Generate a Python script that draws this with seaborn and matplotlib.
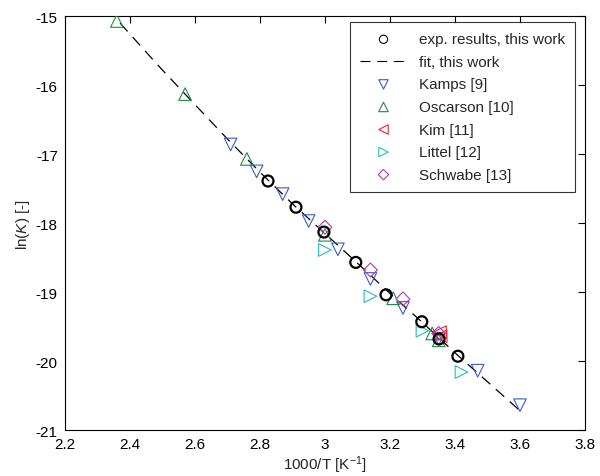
import matplotlib
matplotlib.use('Agg')
import matplotlib.pyplot as plt
import seaborn as sns

# experimental results, this work
exp_x = [2.825, 2.911, 2.997, 3.095, 3.188, 3.298, 3.351, 3.409]
exp_y = [-17.39, -17.77, -18.13, -18.57, -19.04, -19.43, -19.68, -19.93]

# fit, this work
fit_x = [2.37, 2.45, 2.50, 2.57, 2.65, 2.70, 2.80, 2.90, 3.00, 3.10, 3.20, 3.30, 3.40, 3.50, 3.60]
fit_y = [-15.10, -15.52, -15.78, -16.13, -16.53, -16.78, -17.26, -17.72, -18.15, -18.58,
         -19.02, -19.44, -19.88, -20.30, -20.72]

kamps_x = [2.71, 2.79, 2.87, 2.95, 3.04, 3.14, 3.24, 3.35, 3.47, 3.60]
kamps_y = [-16.86, -17.25, -17.58, -17.97, -18.38, -18.81, -19.23, -19.68, -20.14, -20.64]

oscarson_x = [2.36, 2.57, 2.76, 3.00, 3.21, 3.33, 3.35]
oscarson_y = [-15.07, -16.13, -17.07, -18.17, -19.09, -19.60, -19.70]

kim_x = [3.354, 3.356]
kim_y = [-19.58, -19.64]

littel_x = [3.00, 3.14, 3.30, 3.42]
littel_y = [-18.39, -19.06, -19.56, -20.16]

schwabe_x = [3.00, 3.14, 3.24, 3.35]
schwabe_y = [-18.06, -18.68, -19.10, -19.60]

sns.set_style('white')
plt.rcParams['font.family'] = ['Liberation Sans', 'DejaVu Sans']
plt.rcParams['mathtext.fontset'] = 'custom'
plt.rcParams['mathtext.rm'] = 'Liberation Sans'
plt.rcParams['mathtext.it'] = 'Liberation Sans:italic'
plt.rcParams['axes.unicode_minus'] = False
plt.rcParams['font.size'] = 11

fig = plt.figure(figsize=(6, 4.77), dpi=100)
ax = fig.add_axes([0.108, 0.0964, 0.867, 0.8676])

# literature data sets
others = [
    ('Kamps [9]', kamps_x, kamps_y, 'v', '#3a5cc4'),
    ('Oscarson [10]', oscarson_x, oscarson_y, '^', '#1f8a45'),
    ('Kim [11]', kim_x, kim_y, '<', '#e8262b'),
    ('Littel [12]', littel_x, littel_y, '>', '#23bcc4'),
    ('Schwabe [13]', schwabe_x, schwabe_y, 'D', '#b03cb0'),
]

sns.lineplot(x=fit_x, y=fit_y, ax=ax, color='black', linewidth=0.9,
             linestyle=(0, (9, 6)), label='fit, this work', zorder=2, sort=False)

for name, xs, ys, mk, col in others:
    size = 50 if mk == 'D' else 82
    sns.scatterplot(x=xs, y=ys, ax=ax, marker=mk, s=size, facecolors='none',
                    edgecolor=col, linewidth=0.8, label=name, zorder=3)

sns.scatterplot(x=exp_x, y=exp_y, ax=ax, marker='o', s=62, facecolors='none',
                edgecolor='black', linewidth=1.6, label='exp. results, this work', zorder=4)

ax.set_xlim(2.2, 3.8)
ax.set_ylim(-21, -15)
ax.set_xticks([2.2, 2.4, 2.6, 2.8, 3.0, 3.2, 3.4, 3.6, 3.8])
ax.set_xticklabels(['2.2', '2.4', '2.6', '2.8', '3', '3.2', '3.4', '3.6', '3.8'])
ax.set_yticks([-21, -20, -19, -18, -17, -16, -15])
ax.tick_params(direction='in', length=5, width=0.8, top=True, right=True,
               labelsize=11, pad=5, colors='black')
for sp in ax.spines.values():
    sp.set_color('black')
    sp.set_linewidth(0.8)

ax.set_xlabel('1000/T [K$^{-1}$]', fontsize=11, labelpad=2)
ax.set_ylabel(r'ln($\it{K}$) [-]', fontsize=11, labelpad=3)

handles, labels = ax.get_legend_handles_labels()
order = ['exp. results, this work', 'fit, this work', 'Kamps [9]', 'Oscarson [10]',
         'Kim [11]', 'Littel [12]', 'Schwabe [13]']
hmap = dict(zip(labels, handles))
leg = ax.legend([hmap[k] for k in order], order, loc='upper left',
                bbox_to_anchor=(0.548, 0.985), borderaxespad=0, frameon=True,
                fancybox=False, edgecolor='black', fontsize=11, handlelength=3.1,
                borderpad=0.65, labelspacing=0.56, handletextpad=0.75, markerscale=0.75)
leg.get_frame().set_linewidth(0.8)
for h in leg.legend_handles:
    try:
        h.set_linewidth(0.8)
    except Exception:
        pass

fig.savefig('out.png', dpi=100)
